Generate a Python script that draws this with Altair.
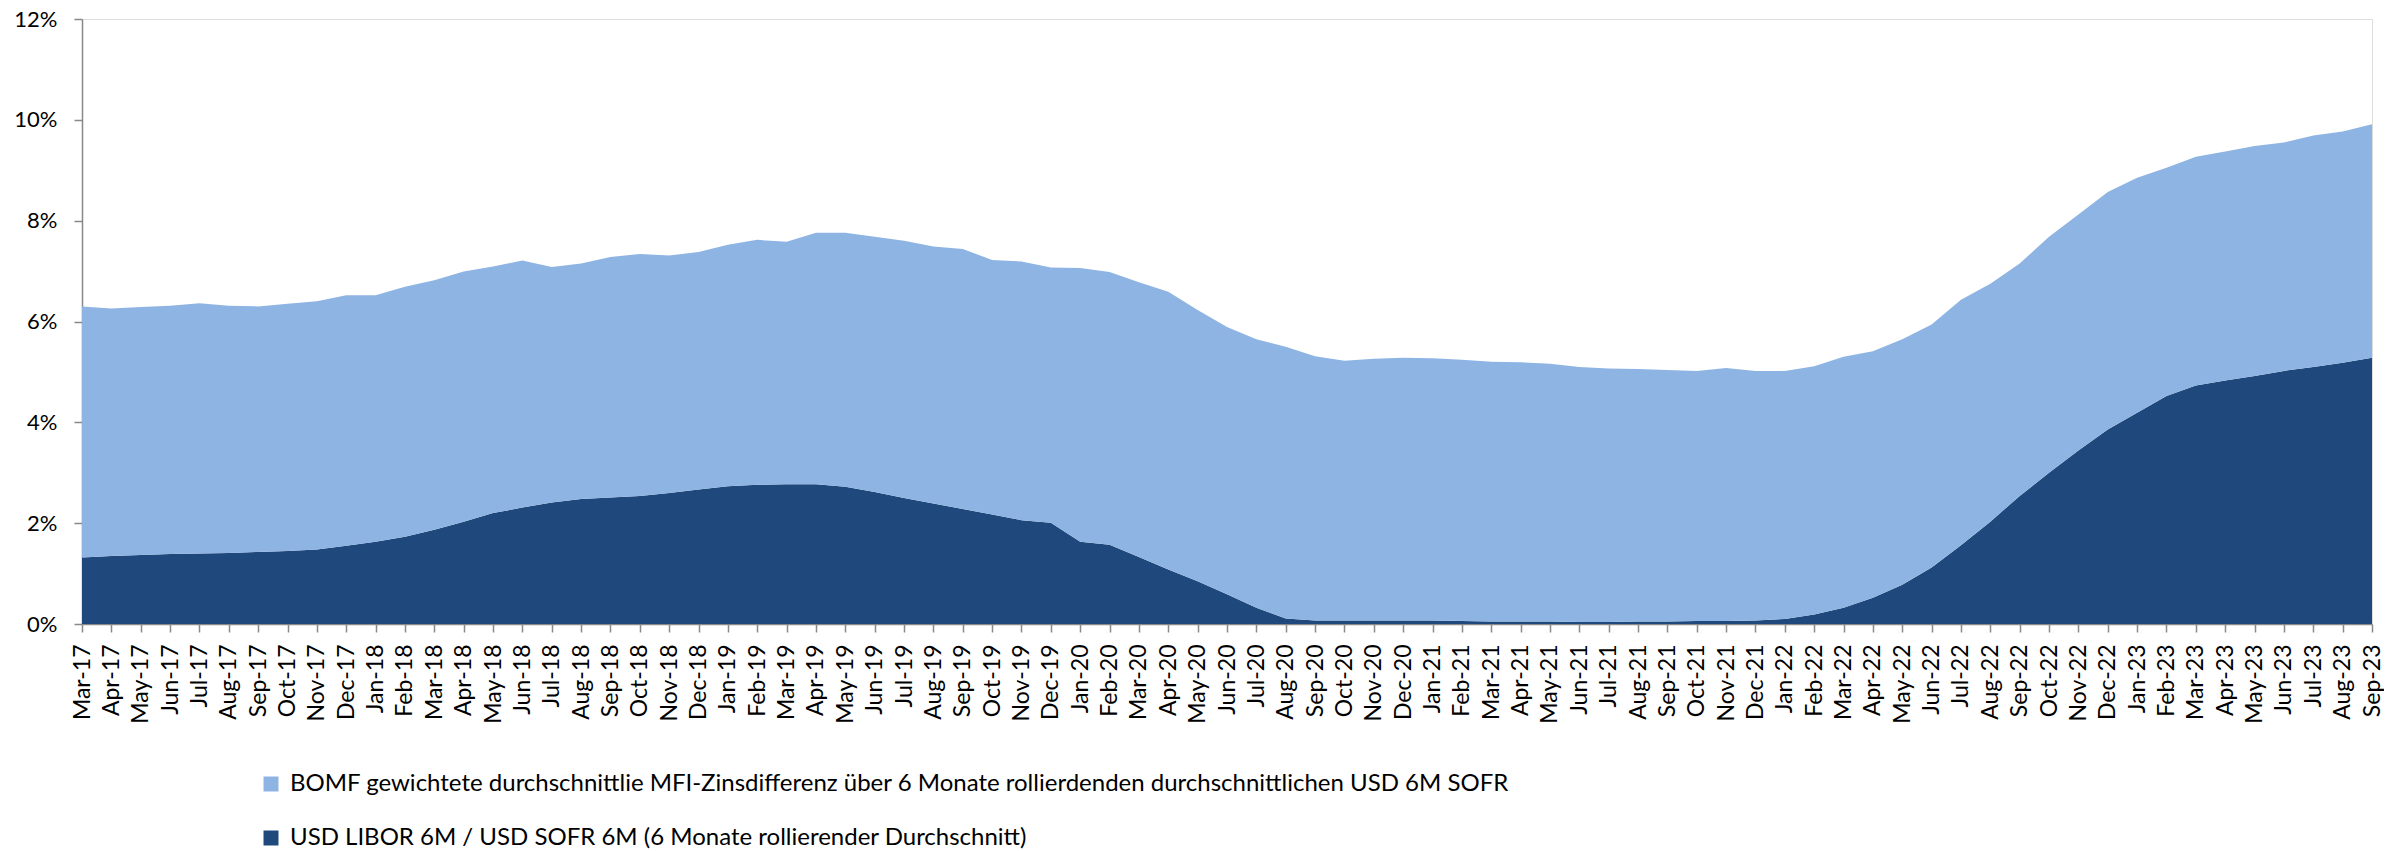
import altair as alt
import pandas as pd

months = [
    "Mar-17", "Apr-17", "May-17", "Jun-17", "Jul-17", "Aug-17", "Sep-17", "Oct-17", "Nov-17", "Dec-17",
    "Jan-18", "Feb-18", "Mar-18", "Apr-18", "May-18", "Jun-18", "Jul-18", "Aug-18", "Sep-18", "Oct-18", "Nov-18", "Dec-18",
    "Jan-19", "Feb-19", "Mar-19", "Apr-19", "May-19", "Jun-19", "Jul-19", "Aug-19", "Sep-19", "Oct-19", "Nov-19", "Dec-19",
    "Jan-20", "Feb-20", "Mar-20", "Apr-20", "May-20", "Jun-20", "Jul-20", "Aug-20", "Sep-20", "Oct-20", "Nov-20", "Dec-20",
    "Jan-21", "Feb-21", "Mar-21", "Apr-21", "May-21", "Jun-21", "Jul-21", "Aug-21", "Sep-21", "Oct-21", "Nov-21", "Dec-21",
    "Jan-22", "Feb-22", "Mar-22", "Apr-22", "May-22", "Jun-22", "Jul-22", "Aug-22", "Sep-22", "Oct-22", "Nov-22", "Dec-22",
    "Jan-23", "Feb-23", "Mar-23", "Apr-23", "May-23", "Jun-23", "Jul-23", "Aug-23", "Sep-23",
]

# USD LIBOR 6M / USD SOFR 6M (6M rolling average), in %
libor_sofr = [
    1.32, 1.35, 1.37, 1.39, 1.40, 1.41, 1.43, 1.45, 1.48, 1.55,
    1.63, 1.73, 1.87, 2.03, 2.20, 2.31, 2.41, 2.48, 2.51, 2.54, 2.60, 2.67,
    2.73, 2.76, 2.77, 2.77, 2.72, 2.62, 2.50, 2.39, 2.28, 2.17, 2.06, 2.01,
    1.63, 1.57, 1.33, 1.08, 0.85, 0.59, 0.32, 0.11, 0.07, 0.07, 0.07, 0.07,
    0.07, 0.06, 0.05, 0.05, 0.05, 0.04, 0.04, 0.05, 0.05, 0.06, 0.06, 0.07,
    0.10, 0.19, 0.32, 0.52, 0.78, 1.12, 1.56, 2.03, 2.54, 3.00, 3.44, 3.86,
    4.19, 4.52, 4.73, 4.83, 4.92, 5.02, 5.10, 5.18, 5.28,
]

# BOMF weighted average MFI spread over the rolling average USD 6M SOFR, in %
bomf_spread = [
    4.98, 4.91, 4.92, 4.92, 4.96, 4.90, 4.87, 4.90, 4.92, 4.97,
    4.89, 4.96, 4.95, 4.96, 4.89, 4.90, 4.67, 4.67, 4.77, 4.80, 4.71, 4.71,
    4.79, 4.86, 4.81, 4.99, 5.04, 5.06, 5.10, 5.10, 5.16, 5.05, 5.13, 5.06,
    5.43, 5.41, 5.45, 5.51, 5.38, 5.30, 5.33, 5.39, 5.24, 5.15, 5.19, 5.21,
    5.20, 5.18, 5.15, 5.14, 5.11, 5.06, 5.03, 5.01, 4.99, 4.96, 5.02, 4.95,
    4.92, 4.92, 4.98, 4.89, 4.87, 4.82, 4.87, 4.72, 4.61, 4.68, 4.68, 4.71,
    4.66, 4.53, 4.54, 4.54, 4.56, 4.53, 4.59, 4.59, 4.63,
]

series_names = [
    "BOMF gewichtete durchschnittlie MFI-Zinsdifferenz über 6 Monate rollierdenden durchschnittlichen USD 6M SOFR",
    "USD LIBOR 6M / USD SOFR 6M (6 Monate rollierender Durchschnitt)",
]
series_colors = ["#8EB4E3", "#1F497D"]
y_ticks = [0, 2, 4, 6, 8, 10, 12]

rows = []
for i, m in enumerate(months):
    rows.append({"month": m, "series": series_names[1], "value": libor_sofr[i], "ord": 0})
    rows.append({"month": m, "series": series_names[0], "value": bomf_spread[i], "ord": 1})
df = pd.DataFrame(rows)

FONT = "Lato"

chart = alt.Chart(df).mark_area(interpolate="linear").encode(
    x=alt.X(
        "month:N",
        sort=months,
        scale=alt.Scale(type="point", padding=0),
        axis=alt.Axis(
            title=None,
            labelAngle=-90,
            labelAlign="right",
            labelBaseline="middle",
            labelFont=FONT,
            labelFontSize=23,
            labelColor="#000000",
            labelPadding=12,
            labelOverlap=False,
            tickSize=8,
            tickColor="#898989",
            domainColor="#898989",
            domainWidth=1.5,
            tickWidth=1.5,
            grid=False,
        ),
    ),
    y=alt.Y(
        "value:Q",
        stack="zero",
        scale=alt.Scale(domain=[0, 12], nice=False),
        axis=alt.Axis(
            title=None,
            values=y_ticks,
            labelExpr="datum.value + '%'",
            labelFont=FONT,
            labelFontSize=22,
            labelColor="#000000",
            labelPadding=17,
            tickSize=8,
            tickColor="#898989",
            domainColor="#898989",
            domainWidth=1.5,
            tickWidth=1.5,
            grid=False,
        ),
    ),
    color=alt.Color(
        "series:N",
        scale=alt.Scale(domain=series_names, range=series_colors),
        legend=alt.Legend(
            title=None,
            orient="none",
            legendX=177,
            legendY=753,
            direction="vertical",
            symbolType="square",
            symbolSize=225,
            symbolStrokeWidth=0,
            labelFont=FONT,
            labelFontSize=24,
            labelColor="#000000",
            labelOffset=7,
            labelLimit=2000,
            rowPadding=30,
            padding=0,
        ),
    ),
    order=alt.Order("ord:Q", sort="ascending"),
).properties(
    width=2290,
    height=605,
    padding={"left": 74, "top": 11, "right": 12, "bottom": 227},
    autosize=alt.AutoSizeParams(type="none"),
).configure_view(strokeWidth=0).configure(background="#ffffff")

chart.save("out.html", embed_options={"renderer": "svg", "actions": False})
